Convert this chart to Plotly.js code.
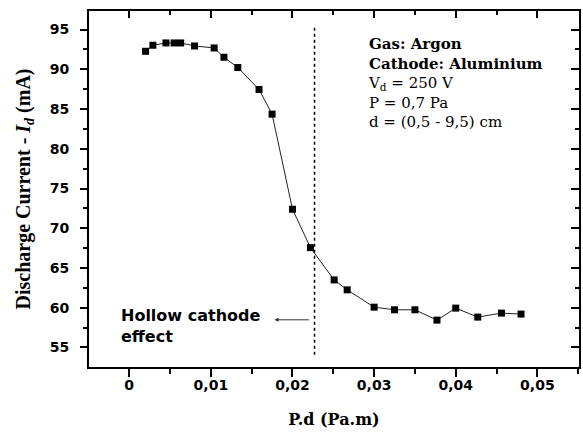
<!DOCTYPE html>
<html>
<head>
<meta charset="utf-8">
<script src="https://cdn.plot.ly/plotly-3.0.1.min.js"></script>
<style>html,body{margin:0;padding:0;background:#fff;}#chart{width:583px;height:432px;}</style>
</head>
<body>
<div id="chart"></div>
<script>
// ---- data ----
const pdValues = [0.0020, 0.0029, 0.0045, 0.0055, 0.0063, 0.0080, 0.0104, 0.0116, 0.0133, 0.0159, 0.0175, 0.0200, 0.0222, 0.0251, 0.0267, 0.0300, 0.0325, 0.0350, 0.0377, 0.0400, 0.0427, 0.0456, 0.0480];
const currentValues = [92.27, 93.03, 93.32, 93.32, 93.32, 92.94, 92.69, 91.52, 90.23, 87.46, 84.36, 72.39, 67.56, 63.50, 62.25, 60.07, 59.74, 59.74, 58.44, 59.95, 58.82, 59.32, 59.20];
const hollowCathodeX = 0.0227;
const infoLines = ["<b>Gas: Argon</b>", "<b>Cathode: Aluminium</b>", "V<sub>d</sub> = 250 V", "P = 0,7 Pa", "d = (0,5 - 9,5) cm"];
const hollowLines = ["Hollow cathode", "effect"];

const xRange = [-0.00493, 0.0551];
const yRange = [52.54, 97.34];

const tickFont = {family: "DejaVu Sans", size: 14, color: "#000", weight: "bold"};
const serif = "DejaVu Serif, serif";

const traces = [
  {
    x: pdValues, y: currentValues, type: "scatter", mode: "lines+markers",
    line: {color: "#222", width: 1},
    marker: {symbol: "square", size: 7, color: "#000"},
    hoverinfo: "x+y"
  },
  {x: [], y: [], xaxis: "x2", yaxis: "y2", type: "scatter", hoverinfo: "skip", showlegend: false}
];

const annotations = [{
  text: infoLines.join("<br>"), xref: "paper", yref: "paper",
  x: (366 - 89) / 490.3, y: (367.3 - 33) / 356.6,
  xanchor: "left", yanchor: "top", align: "left", showarrow: false,
  font: {family: serif, size: 15, color: "#000"}
}];
const hollowY = [0.146, 0.0856];
hollowLines.forEach((t, i) => annotations.push({
  text: t, xref: "paper", yref: "paper", x: (119 - 89) / 490.3, y: hollowY[i],
  xanchor: "left", yanchor: "middle", showarrow: false,
  font: {family: "DejaVu Sans", size: 16, color: "#000", weight: "bold"}
}));
// arrow pointing left from the dotted line
annotations.push({
  x: 0.0178, y: 58.48, ax: hollowCathodeX - 0.0005, ay: 58.48,
  xref: "x", yref: "y", axref: "x", ayref: "y",
  text: "", showarrow: true, arrowhead: 2, arrowsize: 0.8, arrowwidth: 1, arrowcolor: "#333"
});

const layout = {
  width: 583, height: 432,
  margin: {l: 89, r: 4, t: 11, b: 65},
  paper_bgcolor: "#fff", plot_bgcolor: "#fff",
  showlegend: false,
  separators: ", ",
  xaxis: {
    range: xRange, dtick: 0.01, tick0: 0, ticks: "outside", ticklen: 8, tickwidth: 2, tickcolor: "#000",
    showline: true, linewidth: 2, linecolor: "#000", mirror: true, showgrid: false, zeroline: false,
    tickfont: tickFont, ticklabelstandoff: -4,
    minor: {dtick: 0.005, tick0: 0, ticks: "outside", ticklen: 5, tickwidth: 2, tickcolor: "#000", showgrid: false},
    title: {text: "<b>P.d (Pa.m)</b>", font: {family: serif, size: 16, color: "#000"}, standoff: 22}
  },
  yaxis: {
    range: yRange, dtick: 5, tick0: 0, ticks: "outside", ticklen: 7, tickwidth: 2, tickcolor: "#000",
    showline: true, linewidth: 2, linecolor: "#000", mirror: true, showgrid: false, zeroline: false,
    tickfont: tickFont, ticklabelstandoff: 8,
    minor: {dtick: 2.5, tick0: 0, ticks: "outside", ticklen: 4, tickwidth: 2, tickcolor: "#000", showgrid: false},
    title: {text: "<b>Discharge Current - <i>I</i><sub><i>d</i></sub> (mA)</b>", font: {family: "Liberation Serif, serif", size: 20, color: "#000"}, standoff: 14}
  },
  xaxis2: {
    overlaying: "x", side: "top", anchor: "y2", range: xRange, dtick: 0.01, tick0: 0,
    ticks: "inside", ticklen: 7, tickwidth: 2, tickcolor: "#000", showticklabels: false,
    showline: false, showgrid: false, zeroline: false,
    minor: {dtick: 0.005, tick0: 0, ticks: "inside", ticklen: 4, tickwidth: 2, tickcolor: "#000", showgrid: false}
  },
  yaxis2: {
    overlaying: "y", side: "right", anchor: "x2", range: yRange, dtick: 5, tick0: 0,
    ticks: "inside", ticklen: 8, tickwidth: 2, tickcolor: "#000", showticklabels: false,
    showline: false, showgrid: false, zeroline: false,
    minor: {dtick: 2.5, tick0: 0, ticks: "inside", ticklen: 4, tickwidth: 2, tickcolor: "#000", showgrid: false}
  },
  shapes: [{
    type: "line", xref: "x", yref: "y", x0: hollowCathodeX, x1: hollowCathodeX, y0: 54.08, y1: 95.41,
    line: {color: "#000", width: 1.5, dash: "dot"}
  }],
  annotations: annotations
};

Plotly.newPlot("chart", traces, layout, {displayModeBar: false, staticPlot: true});
</script>
</body>
</html>
